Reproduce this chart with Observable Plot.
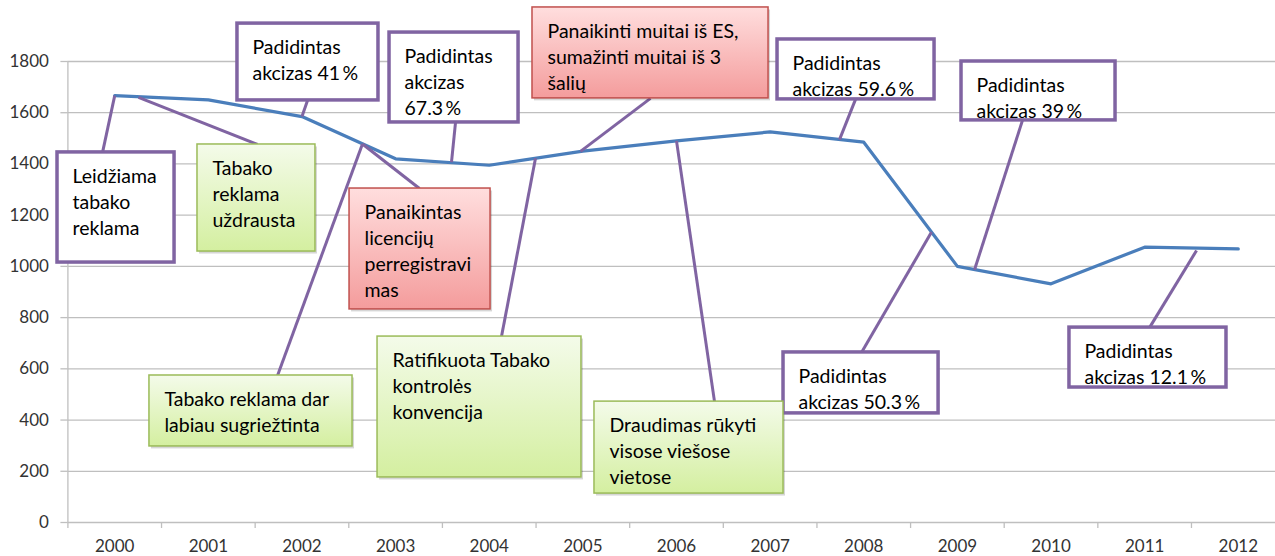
<!DOCTYPE html>
<html><head><meta charset="utf-8">
<script src="https://cdn.jsdelivr.net/npm/d3@7"></script>
<script src="https://cdn.jsdelivr.net/npm/@observablehq/plot@0.6"></script>
<style>
html,body{margin:0;padding:0;background:#fff;overflow:hidden;width:1275px;height:556px}
#chart svg{display:block;max-width:none !important;height:556px !important}
</style>
</head><body><div id="chart"></div>
<script>
// ---- data ----
const years = [2000, 2001, 2002, 2003, 2004, 2005, 2006, 2007, 2008, 2009, 2010, 2011, 2012];
const consumption = [1667, 1650, 1585, 1420, 1395, 1450, 1490, 1525, 1485, 1000, 932, 1075, 1068];
const yTicks = [0, 200, 400, 600, 800, 1000, 1200, 1400, 1600, 1800];

// ---- annotations (text, kind, box in data units [x1, x2, top, bottom], pointer [fromX, fromY, toX, toY]) ----
const noteTexts = [
  "Leidžiama\ntabako\nreklama",
  "Tabako\nreklama\nuždrausta",
  "Padidintas\nakcizas 41\u2009%",
  "Padidintas\nakcizas\n67.3\u2009%",
  "Panaikintas\nlicencijų\nperregistravi\nmas",
  "Tabako reklama dar\nlabiau sugriežtinta",
  "Ratifikuota Tabako\nkontrolės\nkonvencija",
  "Panaikinti muitai iš ES,\nsumažinti muitai iš 3\nšalių",
  "Draudimas rūkyti\nvisose viešose\nvietose",
  "Padidintas\nakcizas 59.6\u2009%",
  "Padidintas\nakcizas 50.3\u2009%",
  "Padidintas\nakcizas 39\u2009%",
  "Padidintas\nakcizas 12.1\u2009%"
];
const noteKinds = ["plain", "green", "plain", "plain", "red", "green", "green", "red", "green", "plain", "plain", "plain", "plain"];
const noteBoxes = [
  [1999.389, 2000.639, 1445, 1015],
  [2000.884, 2002.144, 1476, 1058],
  [2001.311, 2002.817, 1948, 1648],
  [2002.935, 2004.313, 1913, 1562],
  [2002.508, 2004.014, 1304, 832],
  [2000.371, 2002.540, 574, 297],
  [2002.807, 2004.985, 726, 176],
  [2004.462, 2006.983, 2011, 1656],
  [2005.124, 2007.143, 472, 113],
  [2007.079, 2008.756, 1886, 1652],
  [2007.143, 2008.799, 664, 426],
  [2009.044, 2010.689, 1800, 1570],
  [2010.197, 2011.874, 761, 527]
];
const notePointers = [
  [1999.870, 1445, 2000.000, 1667],
  [2001.525, 1476, 2000.254, 1660],
  [2002.059, 1648, 2002.000, 1585],
  [2003.640, 1562, 2003.597, 1407],
  [2003.255, 1304, 2002.646, 1478],
  [2001.739, 574, 2002.646, 1478],
  [2004.131, 726, 2004.494, 1422],
  [2005.722, 1656, 2004.975, 1449],
  [2006.406, 472, 2006.000, 1490],
  [2007.912, 1652, 2007.741, 1495],
  [2007.976, 664, 2008.724, 1134],
  [2009.695, 1570, 2009.183, 987],
  [2011.052, 761, 2011.554, 1062]
];

// ---- build tables ----
const series = years.map((year, i) => ({year, value: consumption[i]}));
const notes = noteTexts.map((text, i) => ({
  text, kind: noteKinds[i],
  x1: noteBoxes[i][0], x2: noteBoxes[i][1], top: noteBoxes[i][2], bottom: noteBoxes[i][3],
  fx: notePointers[i][0], fy: notePointers[i][1], tx: notePointers[i][2], ty: notePointers[i][3]
}));
const xEdges = years.map(y => y - 0.5).concat([years[years.length - 1] + 0.5]);

const plain = notes.filter(d => d.kind === "plain");
const green = notes.filter(d => d.kind === "green");
const red = notes.filter(d => d.kind === "red");
const colored = notes.filter(d => d.kind !== "plain");

const purple = "#8064a2";
const gridColor = "#bfbfbf";
const labelColor = "#333333";

const svg = Plot.plot({
  width: 1290,
  height: 556,
  marginLeft: 67.4,
  marginRight: 5.4,
  marginTop: 61,
  marginBottom: 34,
  style: {fontFamily: "Lato, 'Open Sans', sans-serif", background: "#fff", overflow: "visible"},
  x: {type: "linear", domain: [xEdges[0], xEdges[xEdges.length - 1]], axis: null},
  y: {domain: [0, 1800], axis: null},
  marks: [
    Plot.gridY(yTicks, {stroke: gridColor, strokeOpacity: 1, strokeWidth: 1.3}),
    Plot.axisY(yTicks, {tickSize: 7, tickFormat: () => "", color: gridColor, strokeWidth: 1.3}),
    Plot.axisY(yTicks, {tickSize: 0, tickPadding: 19, tickFormat: d => String(d), fontSize: 17, color: labelColor}),
    Plot.ruleX([xEdges[0]], {y1: 0, y2: 1800, stroke: gridColor, strokeWidth: 1.3}),
    Plot.axisX(xEdges, {tickSize: 6, tickFormat: () => "", color: gridColor, strokeWidth: 1.3}),
    Plot.axisX(years, {tickSize: 0, tickPadding: 17, tickFormat: d => String(d), fontSize: 17, color: labelColor}),
    Plot.line(series, {x: "year", y: "value", stroke: "#4a7ebb", strokeWidth: 3.2, strokeLinejoin: "round"}),
    Plot.link(notes, {x1: "fx", y1: "fy", x2: "tx", y2: "ty", stroke: purple, strokeWidth: 3}),
    Plot.rect(colored, {x1: "x1", x2: "x2", y1: "bottom", y2: "top", fill: "#000", fillOpacity: 0.16, dx: 2, dy: 2.5}),
    Plot.rect(plain, {x1: "x1", x2: "x2", y1: "bottom", y2: "top", fill: "#fff", stroke: purple, strokeWidth: 3.5}),
    Plot.rect(green, {x1: "x1", x2: "x2", y1: "bottom", y2: "top", fill: "url(#gGreen)", stroke: "#9bbb59", strokeWidth: 1.5}),
    Plot.rect(red, {x1: "x1", x2: "x2", y1: "bottom", y2: "top", fill: "url(#gRed)", stroke: "#c0504d", strokeWidth: 1.5}),
    Plot.text(notes, {x: "x1", y: "top", text: "text", textAnchor: "start", lineAnchor: "top", dx: 15, dy: 12, fontSize: 19.5, lineHeight: 1.33, fill: "#000"})
  ]
});

const defs = d3.select(svg).insert("defs", ":first-child");
const gg = defs.append("linearGradient").attr("id", "gGreen").attr("x1", 0).attr("y1", 0).attr("x2", 0).attr("y2", 1);
gg.append("stop").attr("offset", "0%").attr("stop-color", "#f4fbea");
gg.append("stop").attr("offset", "100%").attr("stop-color", "#d4efa0");
const gr = defs.append("linearGradient").attr("id", "gRed").attr("x1", 0).attr("y1", 0).attr("x2", 0).attr("y2", 1);
gr.append("stop").attr("offset", "0%").attr("stop-color", "#ffdede");
gr.append("stop").attr("offset", "100%").attr("stop-color", "#f49c9c");

document.getElementById("chart").appendChild(svg);
</script>
</body></html>
